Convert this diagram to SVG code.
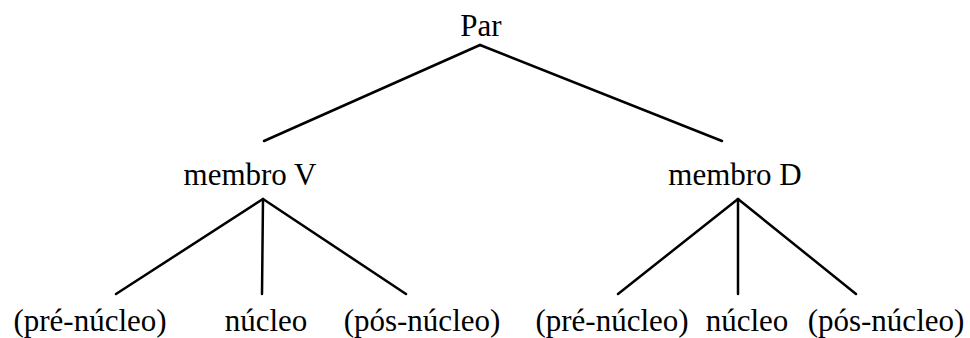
<svg xmlns="http://www.w3.org/2000/svg" width="970" height="338" viewBox="0 0 970 338">
<style>
text{font-family:"Liberation Serif","Times New Roman",serif;font-size:31px;fill:#000;text-anchor:middle}
.e{stroke:#000;stroke-width:2.5;fill:none;stroke-linecap:round}
</style>
<rect width="970" height="338" fill="#fff"/>
<g id="connectors">
<line class="e" x1="480" y1="45" x2="264" y2="141"/>
<line class="e" x1="480" y1="45" x2="722" y2="141"/>
<line class="e" x1="263" y1="199" x2="116" y2="294"/>
<line class="e" x1="263" y1="199" x2="262" y2="294"/>
<line class="e" x1="263" y1="199" x2="406" y2="294"/>
<line class="e" x1="738" y1="199" x2="618" y2="294"/>
<line class="e" x1="738" y1="199" x2="738" y2="294"/>
<line class="e" x1="738" y1="199" x2="856" y2="294"/>
</g>
<g id="par"><text x="481" y="36">Par</text></g>
<g id="membroV"><text x="250" y="185">membro V</text></g>
<g id="membroD"><text x="735" y="185">membro D</text></g>
<g id="preV"><text x="90" y="331">(pré-núcleo)</text></g>
<g id="nucV"><text x="266" y="331">núcleo</text></g>
<g id="posV"><text x="422" y="331">(pós-núcleo)</text></g>
<g id="preD"><text x="612" y="331">(pré-núcleo)</text></g>
<g id="nucD"><text x="747" y="331">núcleo</text></g>
<g id="posD"><text x="886" y="331">(pós-núcleo)</text></g>
</svg>
